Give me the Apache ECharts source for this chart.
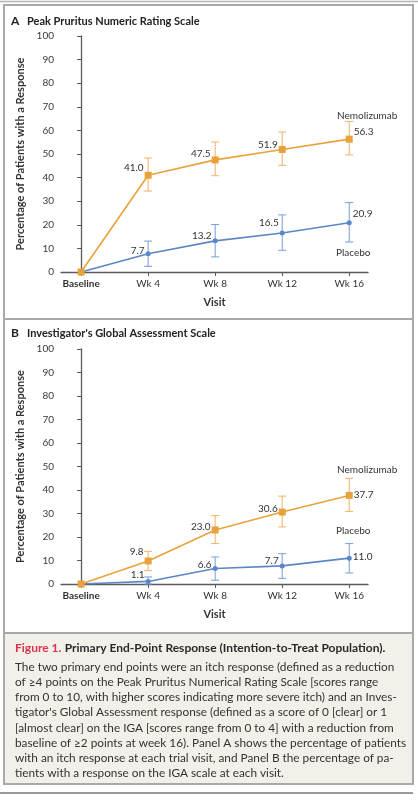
<!DOCTYPE html>
<html>
<head>
<meta charset="utf-8">
<script src="https://cdn.jsdelivr.net/npm/echarts@6/dist/echarts.min.js"></script>
<style>
html,body{margin:0;padding:0;background:#fff;}
#c{width:418px;height:800px;}
</style>
</head>
<body>
<div id="c"></div>
<script>
// ---- data ----
const categories = ['Baseline', 'Wk 4', 'Wk 8', 'Wk 12', 'Wk 16'];
const yTicks = [0, 10, 20, 30, 40, 50, 60, 70, 80, 90, 100];

const nemoA = [0, 41.0, 47.5, 51.9, 56.3];
const nemoA_low = [null, 34.3, 40.8, 45.2, 49.6];
const nemoA_high = [null, 48.3, 55.1, 59.3, 63.8];
const placeboA = [0, 7.7, 13.2, 16.5, 20.9];
const placeboA_low = [null, 2.4, 6.4, 9.2, 12.7];
const placeboA_high = [null, 13.1, 20.1, 24.2, 29.4];

const nemoB = [0, 9.8, 23.0, 30.6, 37.7];
const nemoB_low = [null, 5.7, 17.2, 24.3, 30.9];
const nemoB_high = [null, 13.9, 29.1, 37.4, 45.0];
const placeboB = [0, 1.1, 6.6, 7.7, 11.0];
const placeboB_low = [null, 0, 1.6, 2.4, 4.7];
const placeboB_high = [null, 3.0, 11.5, 12.9, 17.2];

const seriesNames = ['Nemolizumab', 'Placebo'];
const panelTitles = ['Peak Pruritus Numeric Rating Scale', "Investigator's Global Assessment Scale"];
const panelLetters = ['A', 'B'];
const yAxisTitle = 'Percentage of Patients with a Response';
const xAxisTitle = 'Visit';
const captionHead = ['Figure 1.', 'Primary End-Point Response (Intention-to-Treat Population).'];
const captionLines = [
  'The two primary end points were an itch response (defined as a reduction',
  'of \u22654 points on the Peak Pruritus Numerical Rating Scale [scores range',
  'from 0 to 10, with higher scores indicating more severe itch) and an Inves-',
  "tigator's Global Assessment response (defined as a score of 0 [clear] or 1",
  '[almost clear] on the IGA [scores range from 0 to 4] with a reduction from',
  'baseline of \u22652 points at week 16). Panel A shows the percentage of patients',
  'with an itch response at each trial visit, and Panel B the percentage of pa-',
  'tients with a response on the IGA scale at each visit.'
];

// ---- style / layout ----
const ORANGE = '#E9A23B';
const ORANGE_ERR = '#EDB265';
const BLUE = '#5B86C8';
const BLUE_ERR = '#7A9CD3';
const FONT = 'Lato, "Open Sans", sans-serif';
const AXIS_C = '#5a5a5a';
const TXT = '#333';

// label side and vertical shift for each point (layout config)
const labOffA_n = [null, ['left', -7], ['left', -6], ['left', -5], ['right', -7]];
const labOffA_p = [null, ['left', -3], ['left', -5], ['left', -10], ['right', -9]];
const labOffB_n = [null, ['left', -9], ['left', -3], ['left', -3], ['right', -1]];
const labOffB_p = [null, ['left', -7], ['left', -4], ['left', -5], ['right', -1]];

const grids = [
  {left: 61, top: 36, width: 307, height: 236},
  {left: 61, top: 349, width: 307, height: 235}
];

function lineData(vals, offs) {
  return vals.map((v, i) => {
    const o = offs[i];
    return {
      value: [i, v],
      label: o ? {show: true, position: o[0], distance: 1, offset: [0, o[1]]} : {show: false}
    };
  });
}
function errData(lo, hi) {
  const out = [];
  lo.forEach((l, i) => { if (l !== null) out.push([i, l, hi[i]]); });
  return out;
}
function errRender(color) {
  return function (params, api) {
    const x = api.value(0);
    const a = api.coord([x, api.value(1)]);
    const b = api.coord([x, api.value(2)]);
    const hw = 4;
    const st = {stroke: color, lineWidth: 1};
    return {
      type: 'group',
      children: [
        {type: 'line', shape: {x1: a[0], y1: a[1], x2: b[0], y2: b[1]}, style: st},
        {type: 'line', shape: {x1: a[0] - hw, y1: a[1], x2: a[0] + hw, y2: a[1]}, style: st},
        {type: 'line', shape: {x1: b[0] - hw, y1: b[1], x2: b[0] + hw, y2: b[1]}, style: st}
      ]
    };
  };
}

const xAxes = grids.map((g, gi) => ({
  type: 'value', gridIndex: gi, min: -0.3, max: 4.28,
  name: xAxisTitle, nameLocation: 'middle', nameGap: 25,
  nameTextStyle: {fontFamily: FONT, fontWeight: 'bold', fontSize: 11, color: TXT},
  axisLine: {show: true, lineStyle: {color: AXIS_C, width: 1.3}},
  axisTick: {show: true, length: 4, lineStyle: {color: AXIS_C, width: 1}, customValues: categories.map((c, i) => i)},
  axisLabel: {
    customValues: categories.map((c, i) => i), margin: 7,
    fontFamily: FONT, fontSize: 10, color: TXT,
    formatter: v => v === 0 ? '{b|' + categories[0] + '}' : categories[Math.round(v)],
    rich: {b: {fontFamily: FONT, fontSize: 10, fontWeight: 'bold', color: TXT}}
  },
  splitLine: {show: false}
}));
const yAxes = grids.map((g, gi) => ({
  type: 'value', gridIndex: gi, min: yTicks[0], max: yTicks[yTicks.length - 1], interval: 10,
  name: yAxisTitle, nameLocation: 'middle', nameGap: 31, nameRotate: 90,
  nameTextStyle: {fontFamily: FONT, fontWeight: 'bold', fontSize: 11, color: TXT},
  axisLine: {show: true, lineStyle: {color: AXIS_C, width: 1.3}},
  axisTick: {show: true, length: 4, lineStyle: {color: AXIS_C, width: 1}},
  axisLabel: {margin: 7, fontFamily: FONT, fontSize: 10, color: '#3a3a3a'},
  splitLine: {show: false}
}));

const labelStyle = {fontFamily: FONT, fontSize: 10, color: TXT, formatter: p => p.value[1].toFixed(1)};

function nameMark(name, x, y, off) {
  return {
    symbol: 'circle', symbolSize: 1, silent: true,
    itemStyle: {color: 'rgba(0,0,0,0)'},
    label: {show: true, position: 'inside', formatter: name, offset: off, fontFamily: FONT, fontSize: 10, color: TXT},
    data: [{coord: [x, y]}]
  };
}

function panelSeries(gi, nv, nlo, nhi, pv, plo, phi, offN, offP, nameOffN, nameOffP) {
  return [
    {type: 'custom', xAxisIndex: gi, yAxisIndex: gi, renderItem: errRender(ORANGE_ERR), data: errData(nlo, nhi), z: 2, silent: true},
    {type: 'custom', xAxisIndex: gi, yAxisIndex: gi, renderItem: errRender(BLUE_ERR), data: errData(plo, phi), z: 2, silent: true},
    {
      name: seriesNames[0], type: 'line', xAxisIndex: gi, yAxisIndex: gi, data: lineData(nv, offN),
      symbol: 'rect', symbolSize: 7, showAllSymbol: true,
      lineStyle: {color: ORANGE, width: 1.6}, itemStyle: {color: ORANGE}, label: labelStyle, z: 4,
      markPoint: nameMark(seriesNames[0], 4, nv[4], nameOffN)
    },
    {
      name: seriesNames[1], type: 'line', xAxisIndex: gi, yAxisIndex: gi, data: lineData(pv, offP),
      symbol: 'circle', symbolSize: 5, showAllSymbol: true,
      lineStyle: {color: BLUE, width: 1.6}, itemStyle: {color: BLUE}, label: labelStyle, z: 3,
      markPoint: nameMark(seriesNames[1], 4, pv[4], nameOffP)
    }
  ];
}

const series = [].concat(
  panelSeries(0, nemoA, nemoA_low, nemoA_high, placeboA, placeboA_low, placeboA_high, labOffA_n, labOffA_p, [18, -23], [4, 30]),
  panelSeries(1, nemoB, nemoB_low, nemoB_high, placeboB, placeboB_low, placeboB_high, labOffB_n, labOffB_p, [18, -26], [4, -27])
);

const BORDER = '#a9a9a9';
const graphic = [
  {type: 'line', shape: {x1: 0, y1: 1.5, x2: 418, y2: 1.5}, style: {stroke: '#b5b5b5', lineWidth: 1.5}},
  {type: 'rect', shape: {x: 4, y: 633, width: 409, height: 151}, style: {fill: '#F3F0E9'}, z: -1},
  {type: 'rect', shape: {x: 4, y: 5, width: 409, height: 779}, style: {fill: 'none', stroke: BORDER, lineWidth: 2}},
  {type: 'line', shape: {x1: 4, y1: 319, x2: 413, y2: 319}, style: {stroke: BORDER, lineWidth: 2}},
  {type: 'line', shape: {x1: 4, y1: 633, x2: 413, y2: 633}, style: {stroke: BORDER, lineWidth: 2}},
  {type: 'line', shape: {x1: 0, y1: 793, x2: 413, y2: 793}, style: {stroke: '#999', lineWidth: 2}},
  // panel titles
  {type: 'text', x: 11, y: 21, style: {text: panelLetters[0], font: 'bold 12px ' + FONT, fill: '#222', verticalAlign: 'middle'}},
  {type: 'text', x: 27, y: 21, style: {text: panelTitles[0], font: 'bold 11px ' + FONT, fill: '#222', verticalAlign: 'middle'}},
  {type: 'text', x: 11, y: 333, style: {text: panelLetters[1], font: 'bold 12px ' + FONT, fill: '#222', verticalAlign: 'middle'}},
  {type: 'text', x: 27, y: 333, style: {text: panelTitles[1], font: 'bold 11px ' + FONT, fill: '#222', verticalAlign: 'middle'}},
  // caption
  {type: 'text', x: 15, y: 648, style: {
    text: '{r|' + captionHead[0] + '} {h|' + captionHead[1] + '}', verticalAlign: 'middle',
    rich: {r: {font: 'bold 12px ' + FONT, fill: '#D6344B'}, h: {font: 'bold 12px ' + FONT, fill: '#2a2a2a'}}
  }}
].concat(captionLines.map((t, i) => ({
  type: 'text', x: 15, y: 667 + i * 15.2,
  style: {text: t, font: '11.8px ' + FONT, fill: '#333', verticalAlign: 'middle'}
})));

const chart = echarts.init(document.getElementById('c'), null, {renderer: 'canvas'});
chart.setOption({
  animation: false,
  backgroundColor: '#fff',
  grid: grids,
  xAxis: xAxes,
  yAxis: yAxes,
  series: series,
  graphic: graphic
});
</script>
</body>
</html>
